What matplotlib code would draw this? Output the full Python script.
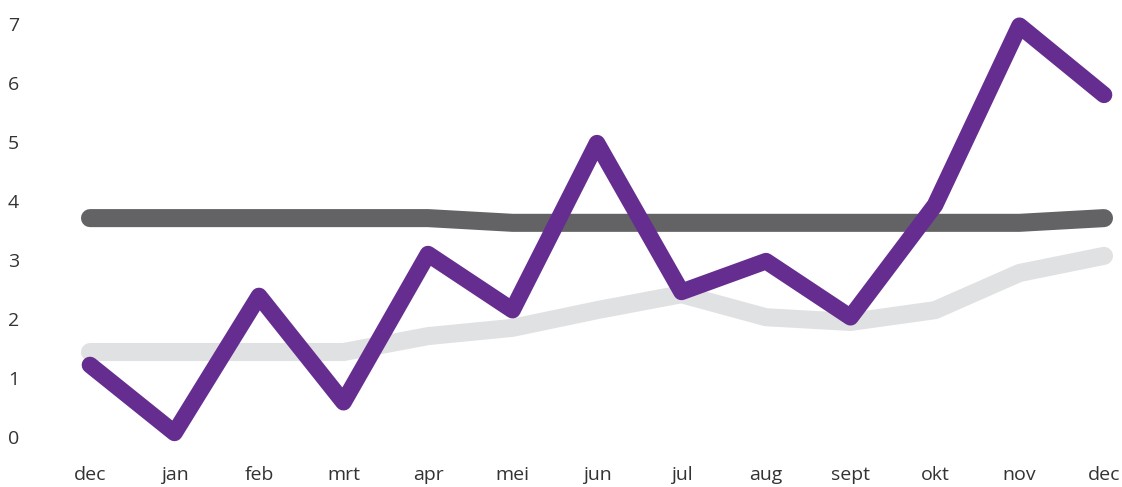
import matplotlib
matplotlib.use("Agg")
import matplotlib.pyplot as plt

months = ["dec", "jan", "feb", "mrt", "apr", "mei", "jun", "jul", "aug", "sept", "okt", "nov", "dec"]
purple_vals = [1.22, 0.07, 2.39, 0.59, 3.1, 2.15, 4.98, 2.46, 2.98, 2.03, 3.93, 6.97, 5.8]
dark_vals = [3.71, 3.71, 3.71, 3.71, 3.71, 3.63, 3.63, 3.63, 3.63, 3.63, 3.63, 3.63, 3.71]
light_vals = [1.44, 1.44, 1.44, 1.44, 1.71, 1.85, 2.15, 2.42, 2.03, 1.95, 2.15, 2.78, 3.07]
y_ticks = [0, 1, 2, 3, 4, 5, 6, 7]

W, H = 1122, 487
fig = plt.figure(figsize=(W / 100, H / 100), dpi=100)
left_px, right_px, bottom_px, top_px = 60, 1116, 40, 10
ax = fig.add_axes([left_px / W, bottom_px / H, (right_px - left_px) / W, (H - bottom_px - top_px) / H])

x = list(range(len(months)))
common = dict(solid_capstyle="round", solid_joinstyle="round", clip_on=False)
ax.plot(x, light_vals, color="#e0e1e3", lw=13, zorder=1, **common)
ax.plot(x, dark_vals, color="#636366", lw=13, zorder=2, **common)
ax.plot(x, purple_vals, color="#662d91", lw=12, zorder=3, **common)

ax.set_xlim(-30 / 84.5, 12 + 12 / 84.5)
ax.set_ylim(-10 / 59, 427 / 59)

ax.set_xticks(x)
ax.set_xticklabels(months)
ax.set_yticks(y_ticks)
ax.set_yticklabels([str(v) for v in y_ticks])
for s in ax.spines.values():
    s.set_visible(False)
ax.tick_params(axis="both", length=0, labelsize=14, labelcolor="#333333")
ax.tick_params(axis="x", pad=14)
ax.tick_params(axis="y", pad=52 * 0.72)
for lab in ax.get_yticklabels():
    lab.set_horizontalalignment("left")
for lab in ax.get_xticklabels() + ax.get_yticklabels():
    lab.set_fontfamily("Open Sans")

fig.savefig("out.png", dpi=100)
